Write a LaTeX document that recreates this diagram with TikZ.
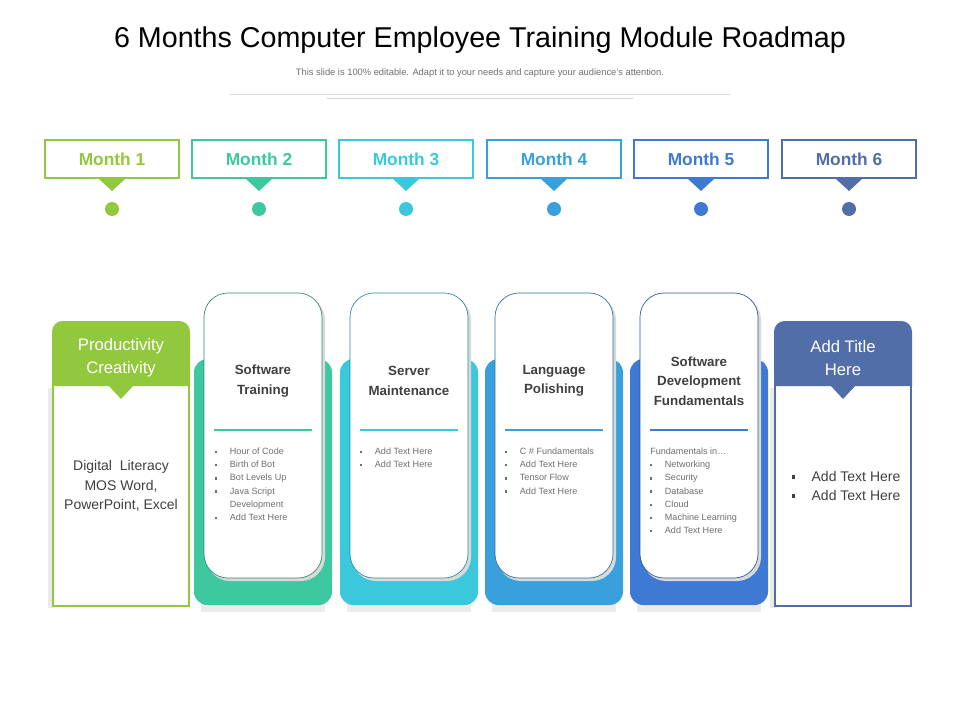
\documentclass[tikz,border=0pt]{standalone}
\usepackage{fontspec}
\setmainfont{Liberation Sans}
\usetikzlibrary{positioning}
\definecolor{cA}{RGB}{146,200,62}
\definecolor{cB}{RGB}{62,200,160}
\definecolor{cC}{RGB}{60,200,220}
\definecolor{cD}{RGB}{58,160,220}
\definecolor{cE}{RGB}{62,122,212}
\definecolor{cF}{RGB}{82,110,168}
\definecolor{txt}{RGB}{64,64,64}
\definecolor{lite}{RGB}{110,110,110}
\tikzset{
  monthbox/.style={draw=#1, line width=1.6pt, fill=white, minimum width=100pt, minimum height=29pt, text=#1, font=\bfseries\fontsize{13}{15}\selectfont},
  cardtitle/.style={align=center, text=txt, font=\bfseries\fontsize{10}{14.5}\selectfont},
  itemlist/.style={align=left, text=lite, font=\fontsize{6.8}{9.8}\selectfont, anchor=north west, inner sep=0pt},
  headtext/.style={align=center, text=white, font=\fontsize{12.5}{17}\selectfont},
}
\newcommand{\bul}{\makebox[11pt][l]{\rule[0.3ex]{0.45ex}{0.45ex}}}
\newcommand{\bigbul}{\makebox[15pt][l]{\rule[0.35ex]{0.5ex}{0.5ex}}}
\begin{document}
\begin{tikzpicture}[x=0.75pt, y=-0.75pt]
\useasboundingbox (0,0) rectangle (960,720);

% title
\node (title) at (480,40) {\fontsize{21.5}{24}\selectfont 6 Months Computer Employee Training Module Roadmap};
\node[text=lite, font=\fontsize{7}{8}\selectfont] (sub) at (480,73) {This slide is 100\% editable. Adapt it to your needs and capture your audience's attention.};
\draw[black!15] (230,94) -- (730,94);
\draw[black!15] (327,98) -- (633,98);

% months
\foreach \i/\x/\c in {1/112/cA, 2/259/cB, 3/406/cC, 4/554/cD, 5/701/cE, 6/849/cF}
{
  \node[monthbox=\c] (M\i) at (\x,159) {Month \i};
  \fill[\c] (\x-13,179) -- (\x+13,179) -- (\x,191) -- cycle;
  \fill[\c] (\x,209) circle (7);
}

% cards
\foreach \i/\x/\c in {2/263/cB, 3/409/cC, 4/554/cD, 5/699/cE}
{
  \fill[black!8] (\x-62,600) rectangle (\x+62,612);
  \fill[\c, rounded corners=10] (\x-69,359) rectangle (\x+69,605);
  \fill[black!15, rounded corners=18] (\x-57,296) rectangle (\x+62,581);
  \filldraw[draw=\c!70!black, line width=0.5pt, fill=white, rounded corners=18] (\x-59,293) rectangle (\x+59,578);
  \draw[\c, line width=1.2pt] (\x-49,430) -- (\x+49,430);
}

\node[cardtitle] (T2) at (263,381) {Software\\Training};
\node[cardtitle] (T3) at (409,381) {Server\\Maintenance};
\node[cardtitle] (T4) at (554,381) {Language\\Polishing};
\node[cardtitle] (T5) at (699,381) {Software\\Development\\Fundamentals};

\node[itemlist] (L2) at (215,448) {\bul Hour of Code\\\bul Birth of Bot\\\bul Bot Levels Up\\\bul Java Script\\\hspace*{11pt}Development\\\bul Add Text Here};
\node[itemlist] (L3) at (360,448) {\bul Add Text Here\\\bul Add Text Here};
\node[itemlist] (L4) at (505,448) {\bul C \# Fundamentals\\\bul Add Text Here\\\bul Tensor Flow\\\bul Add Text Here};
\node[itemlist] (L5) at (650,448) {Fundamentals in\dots\\\bul Networking\\\bul Security\\\bul Database\\\bul Cloud\\\bul Machine Learning\\\bul Add Text Here};

% side boxes
\foreach \x/\c in {121/cA, 843/cF}
{
  \fill[black!8] (\x-73,388) rectangle (\x-66,608);
  \draw[\c, line width=1.6pt, fill=white] (\x-68,385) rectangle (\x+68,606);
  \fill[\c] (\x-69,386) [rounded corners=8] -- (\x-69,321) -- (\x+69,321) [sharp corners] -- (\x+69,386) -- cycle;
  \fill[\c] (\x-13,385) -- (\x+13,385) -- (\x,399) -- cycle;
}
\node[headtext] (H1) at (121,358) {Productivity\\Creativity};
\node[headtext] (H6) at (843,358) {Add Title\\Here};
\node[align=center, text=txt, font=\fontsize{10.5}{14.5}\selectfont] (B1) at (121,486) {Digital\ \ Literacy\\MOS Word,\\PowerPoint, Excel};
\node[align=left, text=txt, font=\fontsize{10.5}{14.5}\selectfont] (B6) at (846,486) {\bigbul Add Text Here\\\bigbul Add Text Here};
\end{tikzpicture}
\end{document}
